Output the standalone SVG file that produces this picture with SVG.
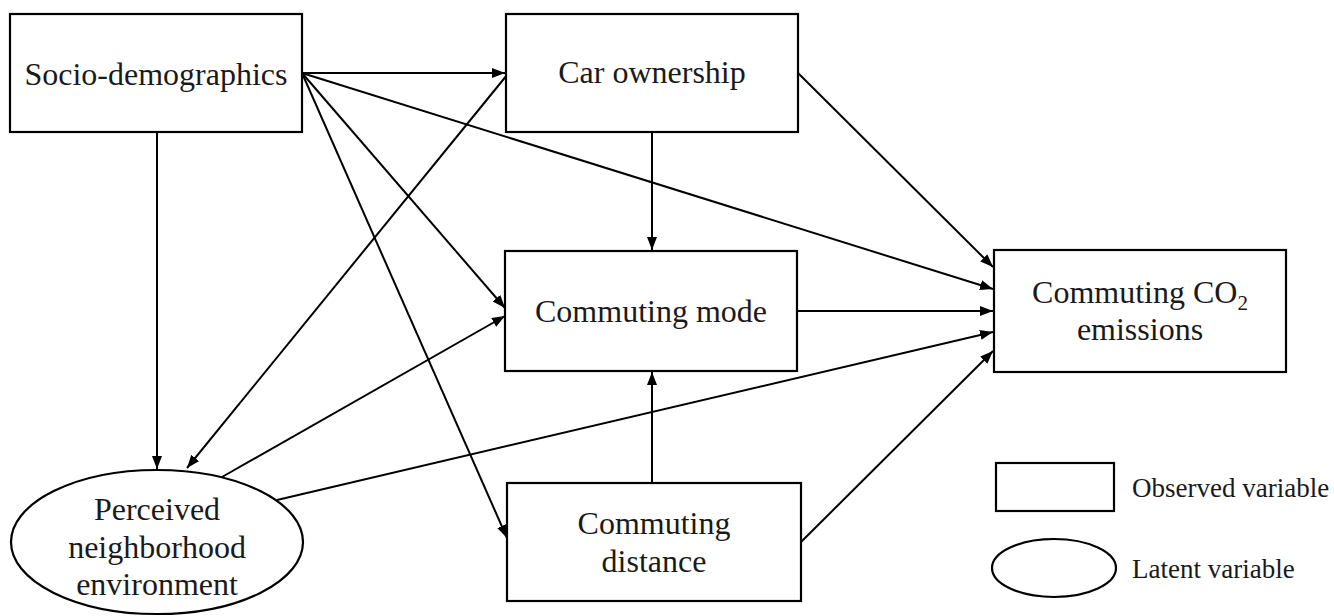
<svg xmlns="http://www.w3.org/2000/svg" width="1334" height="616" viewBox="0 0 1334 616">
<style>
.box{fill:#fff;stroke:#000;stroke-width:2.2}
.t{font-family:"Liberation Serif","Times New Roman",serif;font-size:32px;fill:#1a1a1a;text-anchor:middle}
.lg{font-family:"Liberation Serif","Times New Roman",serif;font-size:27px;fill:#1a1a1a}
.c{stroke:#000;stroke-width:2;fill:none;marker-end:url(#ah)}
</style>
<defs>
<marker id="ah" markerUnits="userSpaceOnUse" markerWidth="14" markerHeight="12" refX="13" refY="5" orient="auto">
<path d="M0,0 L13,5 L0,10 z" fill="#000"/>
</marker>
</defs>
<rect width="1334" height="616" fill="#fff"/>
<g id="connectors">
<line class="c" x1="302" y1="73" x2="505" y2="73"/>
<line class="c" x1="157" y1="132" x2="157" y2="469"/>
<line class="c" x1="507" y1="75" x2="187" y2="468"/>
<line class="c" x1="302" y1="73" x2="505" y2="308"/>
<line class="c" x1="302" y1="73" x2="507" y2="538"/>
<line class="c" x1="302" y1="73" x2="993" y2="289"/>
<line class="c" x1="798" y1="73" x2="993" y2="267"/>
<line class="c" x1="652" y1="132" x2="652" y2="250"/>
<line class="c" x1="797" y1="311" x2="993" y2="311"/>
<line class="c" x1="222" y1="477" x2="505" y2="316"/>
<line class="c" x1="277" y1="500" x2="993" y2="332"/>
<line class="c" x1="652" y1="483" x2="652" y2="372"/>
<line class="c" x1="801" y1="542" x2="993" y2="351"/>
</g>
<g id="socio">
<rect class="box" x="10" y="14" width="292" height="118"/>
<text class="t" x="156" y="85">Socio-demographics</text>
</g>
<g id="car">
<rect class="box" x="506" y="14" width="292" height="118"/>
<text class="t" x="652" y="83">Car ownership</text>
</g>
<g id="mode">
<rect class="box" x="505" y="251" width="292" height="120"/>
<text class="t" x="651" y="322">Commuting mode</text>
</g>
<g id="co2">
<rect class="box" x="994" y="250" width="292" height="122"/>
<text class="t" x="1140" y="303">Commuting CO<tspan font-size="21" dy="7">2</tspan></text>
<text class="t" x="1140" y="340">emissions</text>
</g>
<g id="distance">
<rect class="box" x="507" y="483" width="294" height="118"/>
<text class="t" x="654" y="534">Commuting</text>
<text class="t" x="654" y="572">distance</text>
</g>
<g id="perceived">
<ellipse class="box" cx="157" cy="542" rx="146" ry="72"/>
<text class="t" x="157" y="520">Perceived</text>
<text class="t" x="157" y="558">neighborhood</text>
<text class="t" x="157" y="595">environment</text>
</g>
<g id="legend">
<rect class="box" x="996" y="463" width="118" height="48"/>
<text class="lg" x="1132" y="497">Observed variable</text>
<ellipse class="box" cx="1054" cy="568" rx="62" ry="29"/>
<text class="lg" x="1132" y="578">Latent variable</text>
</g>
</svg>
